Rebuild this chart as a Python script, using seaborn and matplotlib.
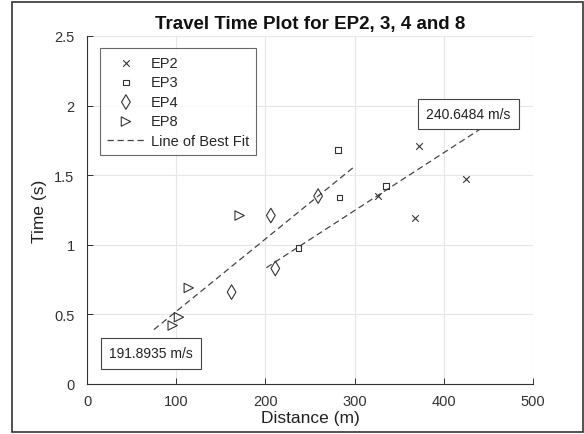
import numpy as np
import pandas as pd
import seaborn as sns
import matplotlib.pyplot as plt
from matplotlib.patches import Rectangle

# --- data ---
ep2_dist = [326, 367, 372, 425]
ep2_time = [1.35, 1.19, 1.71, 1.47]
ep3_dist = [237, 281, 283, 335]
ep3_time = [0.98, 1.68, 1.34, 1.42]
ep4_dist = [162, 206, 211, 259]
ep4_time = [0.66, 1.21, 0.83, 1.35]
ep8_dist = [96, 103, 114, 171]
ep8_time = [0.42, 0.48, 0.69, 1.21]

# best fit lines (speed in m/s, distance range drawn)
fit_speeds = [191.8935, 240.6484]
fit_x_start = [75, 201]
fit_x_end = [300, 450]
fit_labels = ["191.8935 m/s", "240.6484 m/s"]
label_pos_x = [72, 427]
label_pos_y = [0.22, 1.94]

rows = []
for name, d, t in [("EP2", ep2_dist, ep2_time), ("EP3", ep3_dist, ep3_time),
                   ("EP4", ep4_dist, ep4_time), ("EP8", ep8_dist, ep8_time)]:
    for xi, yi in zip(d, t):
        rows.append({"Distance": xi, "Time": yi, "Series": name})
df = pd.DataFrame(rows)

sns.set_theme(style="white")
plt.rcParams['font.family'] = ['Liberation Sans', 'DejaVu Sans']

fig = plt.figure(figsize=(5.84, 4.35), dpi=100)
ax = fig.add_axes([0.149, 0.115, 0.764, 0.800])

mk = {"EP2": "x", "EP3": "s", "EP4": "d", "EP8": ">"}
sz = {"EP2": 22, "EP3": 18, "EP4": 55, "EP8": 45}
col = "#333333"
for name in ["EP2", "EP3", "EP4", "EP8"]:
    sub = df[df["Series"] == name]
    if mk[name] == "x":
        sns.scatterplot(data=sub, x="Distance", y="Time", marker="x", s=sz[name],
                        color=col, linewidth=0.8, ax=ax, label=name, zorder=3)
    else:
        sns.scatterplot(data=sub, x="Distance", y="Time", marker=mk[name], s=sz[name],
                        facecolor="none", edgecolor=col, linewidth=0.8, ax=ax,
                        label=name, zorder=3)

for i, sp in enumerate(fit_speeds):
    xs = np.array([fit_x_start[i], fit_x_end[i]])
    ax.plot(xs, xs / sp, color="#444444", linestyle=(0, (5, 3)), linewidth=0.9,
            label="Line of Best Fit" if i == 0 else None, zorder=2)
    ax.text(label_pos_x[i], label_pos_y[i], fit_labels[i], fontsize=10,
            ha="center", va="center", color="#222222",
            bbox=dict(boxstyle="square,pad=0.6", facecolor="white",
                      edgecolor="#444444", linewidth=0.8))

ax.set_xlim(0, 500)
ax.set_ylim(0, 2.5)
ax.set_xticks([0, 100, 200, 300, 400, 500])
ax.set_yticks([0, 0.5, 1, 1.5, 2, 2.5])
ax.set_yticklabels(["0", "0.5", "1", "1.5", "2", "2.5"])
ax.grid(True, color="#e6e6e6", linewidth=0.8)
ax.set_axisbelow(True)
for s in ["top", "right"]:
    ax.spines[s].set_visible(False)
for s in ["left", "bottom"]:
    ax.spines[s].set_color("#333333")
    ax.spines[s].set_linewidth(0.8)
ax.tick_params(direction="in", length=4, width=0.7, color="#333333",
               labelsize=10.5, labelcolor="#333333", left=True, bottom=True)
ax.tick_params(axis="x", pad=7)
ax.tick_params(axis="y", pad=9)
ax.set_xlabel("Distance (m)", fontsize=12.5, color="#222222", labelpad=2)
ax.set_ylabel("Time (s)", fontsize=12.5, color="#222222", labelpad=5)
ax.set_title("Travel Time Plot for EP2, 3, 4 and 8", fontsize=13.5,
             fontweight="bold", color="#111111", pad=6)

leg = ax.legend(loc="upper left", bbox_to_anchor=(0.012, 0.985), fontsize=10.5,
                frameon=True, fancybox=False, edgecolor="#444444",
                handlelength=2.6, borderpad=0.5, labelspacing=0.38,
                handletextpad=0.4)
leg.get_frame().set_linewidth(0.8)

# outer border of the figure
fig.patches.append(Rectangle((0.021, 0.005), 0.978, 0.988, transform=fig.transFigure,
                             fill=False, edgecolor="#333333", linewidth=1.2))

fig.savefig("out.png", dpi=100)
